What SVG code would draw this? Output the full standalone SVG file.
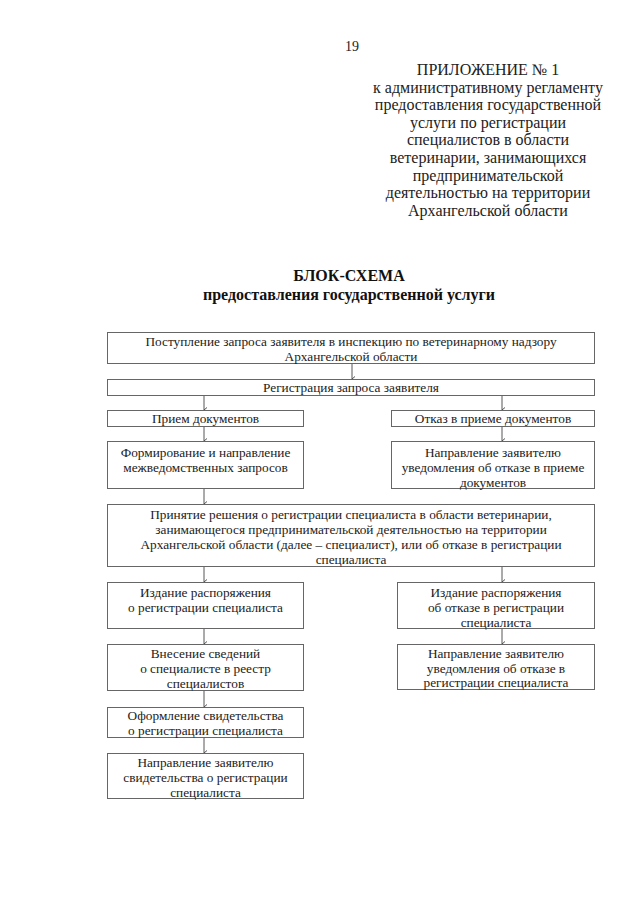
<svg xmlns="http://www.w3.org/2000/svg" width="640" height="905" viewBox="0 0 640 905">
<defs>
<style>
text{font-family:"Liberation Serif","Times New Roman",serif;fill:#222;}
.h{font-size:16px;text-anchor:middle;}
.t{font-size:16px;font-weight:bold;text-anchor:middle;fill:#111;}
.b{font-size:13.3px;text-anchor:middle;}
.box{fill:#fff;stroke:#666;stroke-width:1;}
.c{stroke:#444;stroke-width:0.9;fill:none;marker-end:url(#ah);}
</style>
<marker id="ah" markerWidth="6" markerHeight="6" refX="3" refY="5" orient="auto" markerUnits="userSpaceOnUse">
<path d="M0.5,2 L3,5 L5.5,2" fill="none" stroke="#444" stroke-width="0.9"/>
</marker>
</defs>
<rect width="640" height="905" fill="#fff"/>
<text x="352" y="51" style="font-size:14px;text-anchor:middle">19</text>
<g id="header">
<text class="h" x="488" y="75">ПРИЛОЖЕНИЕ № 1</text>
<text class="h" x="488" y="92.6">к административному регламенту</text>
<text class="h" x="488" y="110.2">предоставления государственной</text>
<text class="h" x="488" y="127.8">услуги по регистрации</text>
<text class="h" x="488" y="145.4">специалистов в области</text>
<text class="h" x="488" y="163">ветеринарии, занимающихся</text>
<text class="h" x="488" y="180.6">предпринимательской</text>
<text class="h" x="488" y="198.2">деятельностью на территории</text>
<text class="h" x="488" y="215.8">Архангельской области</text>
</g>
<g id="title">
<text class="t" x="349" y="281">БЛОК-СХЕМА</text>
<text class="t" x="349" y="300">предоставления государственной услуги</text>
</g>
<g id="connectors">
<line class="c" x1="352" y1="364" x2="352" y2="379"/>
<line class="c" x1="204" y1="396" x2="204" y2="410"/>
<line class="c" x1="502" y1="396" x2="502" y2="410"/>
<line class="c" x1="204" y1="427" x2="204" y2="441"/>
<line class="c" x1="502" y1="427" x2="502" y2="441"/>
<line class="c" x1="204" y1="489" x2="204" y2="504"/>
<line class="c" x1="204" y1="567" x2="204" y2="582"/>
<line class="c" x1="502" y1="567" x2="502" y2="582"/>
<line class="c" x1="204" y1="629" x2="204" y2="644"/>
<line class="c" x1="502" y1="629" x2="502" y2="644"/>
<line class="c" x1="204" y1="691" x2="204" y2="707"/>
<line class="c" x1="204" y1="738" x2="204" y2="753"/>
</g>
<g id="n1">
<rect class="box" x="107.5" y="332.5" width="487" height="31"/>
<text class="b" x="351" y="345.5">Поступление запроса заявителя в инспекцию по ветеринарному надзору</text>
<text class="b" x="351" y="360.5">Архангельской области</text>
</g>
<g id="n2">
<rect class="box" x="107.5" y="379.5" width="487" height="16"/>
<text class="b" x="351" y="392">Регистрация запроса заявителя</text>
</g>
<g id="n3">
<rect class="box" x="107.5" y="410.5" width="196" height="16"/>
<text class="b" x="205.5" y="423">Прием документов</text>
</g>
<g id="n4">
<rect class="box" x="391.5" y="410.5" width="203" height="16"/>
<text class="b" x="493" y="423">Отказ в приеме документов</text>
</g>
<g id="n5">
<rect class="box" x="107.5" y="441.5" width="196" height="47"/>
<text class="b" x="205.5" y="456.5">Формирование и направление</text>
<text class="b" x="205.5" y="471.5">межведомственных запросов</text>
</g>
<g id="n6">
<rect class="box" x="391.5" y="441.5" width="203" height="47"/>
<text class="b" x="493" y="456.5">Направление заявителю</text>
<text class="b" x="493" y="471.5">уведомления об отказе в приеме</text>
<text class="b" x="493" y="486.5">документов</text>
</g>
<g id="n7">
<rect class="box" x="107.5" y="504.5" width="487" height="62"/>
<text class="b" x="351" y="518.5">Принятие решения о регистрации специалиста в области ветеринарии,</text>
<text class="b" x="351" y="533.5">занимающегося предпринимательской деятельностью на территории</text>
<text class="b" x="351" y="548.5">Архангельской области (далее – специалист), или об отказе в регистрации</text>
<text class="b" x="351" y="563.5">специалиста</text>
</g>
<g id="n8">
<rect class="box" x="107.5" y="582.5" width="196" height="46"/>
<text class="b" x="205.5" y="596.5">Издание распоряжения</text>
<text class="b" x="205.5" y="611.5">о регистрации специалиста</text>
</g>
<g id="n9">
<rect class="box" x="397.5" y="582.5" width="197" height="46"/>
<text class="b" x="496" y="596.5">Издание распоряжения</text>
<text class="b" x="496" y="611.5">об отказе в регистрации</text>
<text class="b" x="496" y="626.5">специалиста</text>
</g>
<g id="n10">
<rect class="box" x="107.5" y="644.5" width="196" height="46"/>
<text class="b" x="205.5" y="657.5">Внесение сведений</text>
<text class="b" x="205.5" y="672.5">о специалисте в реестр</text>
<text class="b" x="205.5" y="687.5">специалистов</text>
</g>
<g id="n11">
<rect class="box" x="397.5" y="644.5" width="197" height="45"/>
<text class="b" x="496" y="657.5">Направление заявителю</text>
<text class="b" x="496" y="672.5">уведомления об отказе в</text>
<text class="b" x="496" y="687">регистрации специалиста</text>
</g>
<g id="n12">
<rect class="box" x="107.5" y="707.5" width="196" height="30"/>
<text class="b" x="205.5" y="720">Оформление свидетельства</text>
<text class="b" x="205.5" y="735">о регистрации специалиста</text>
</g>
<g id="n13">
<rect class="box" x="107.5" y="753.5" width="196" height="45"/>
<text class="b" x="205.5" y="766.5">Направление заявителю</text>
<text class="b" x="205.5" y="781.5">свидетельства о регистрации</text>
<text class="b" x="205.5" y="796.5">специалиста</text>
</g>
</svg>
